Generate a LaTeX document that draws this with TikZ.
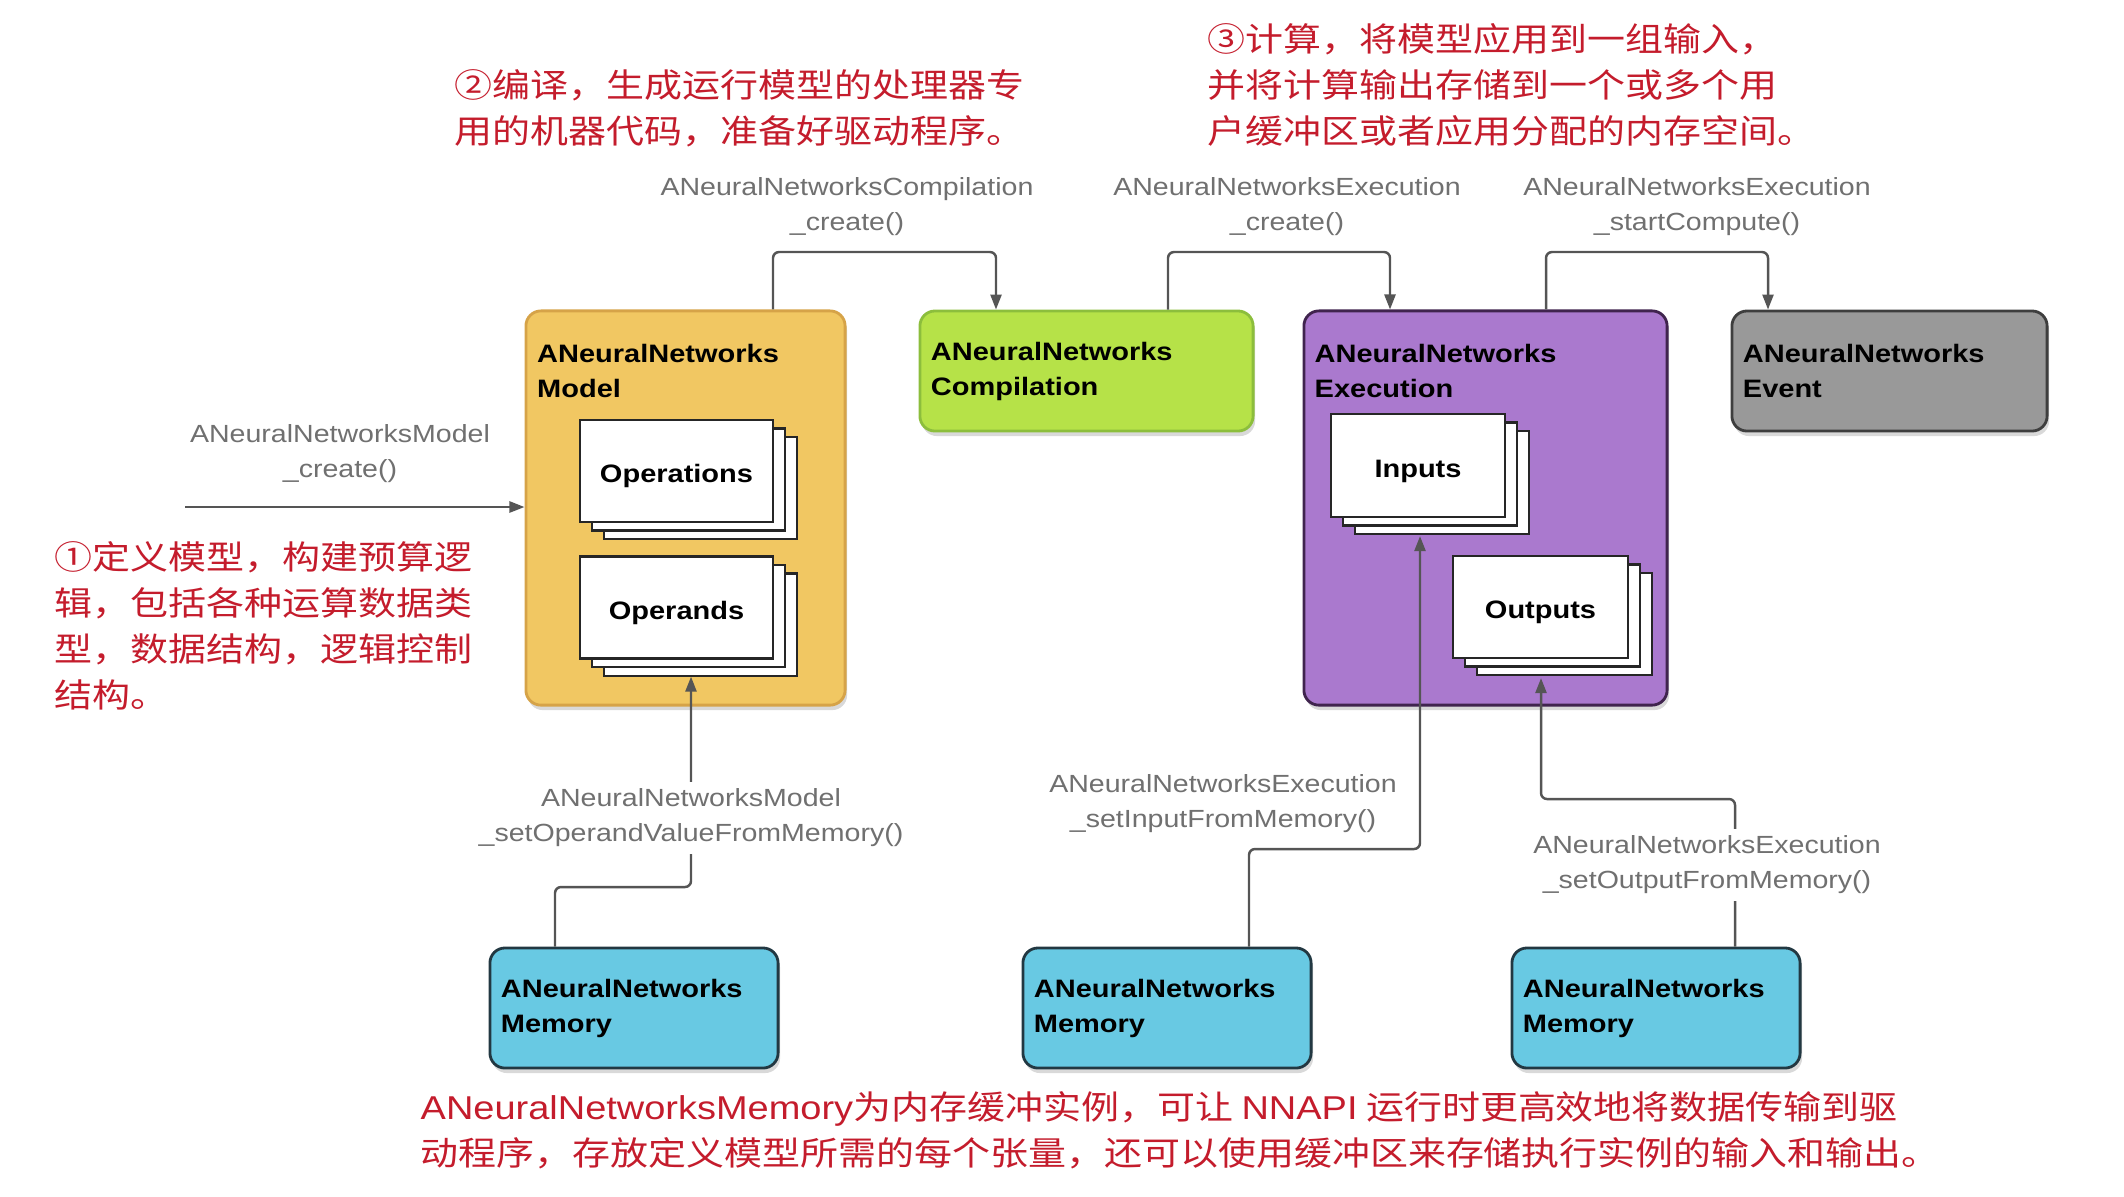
\documentclass[tikz,border=0pt]{standalone}
\usepackage{fontspec}
\setmainfont{Liberation Sans}
\newfontfamily\cjk[FakeStretch=1.15]{Noto Sans CJK SC}
\newfontfamily\lat[FakeStretch=1.15]{Liberation Sans}
\usetikzlibrary{positioning, arrows.meta, calc, shadows}
\definecolor{modelfill}{RGB}{241,199,98}
\definecolor{modeldraw}{RGB}{214,163,72}
\definecolor{compfill}{RGB}{182,226,72}
\definecolor{compdraw}{RGB}{140,190,60}
\definecolor{execfill}{RGB}{170,121,206}
\definecolor{execdraw}{RGB}{64,36,78}
\definecolor{eventfill}{RGB}{153,153,153}
\definecolor{eventdraw}{RGB}{62,62,62}
\definecolor{memfill}{RGB}{104,201,227}
\definecolor{memdraw}{RGB}{34,56,66}
\definecolor{wire}{RGB}{85,85,85}
\definecolor{callgray}{RGB}{112,112,112}
\definecolor{notered}{RGB}{196,28,44}
\tikzset{
  box/.style={
    draw, line width=0.8pt, rounded corners=0.15cm, align=left, inner xsep=0.11cm,
    font={\lat\bfseries\fontsize{7.17pt}{9.96pt}\selectfont},
    drop shadow={shadow xshift=0.02cm, shadow yshift=-0.05cm, opacity=0.3}
  },
  ttl/.style={anchor=north west, inner sep=0pt, align=left,
    font={\lat\bfseries\fontsize{7.17pt}{9.96pt}\selectfont}},
  card/.style={
    draw=black!85, fill=white, line width=0.6pt,
    minimum width=1.93cm, minimum height=1.02cm, text height=0.28cm, text depth=0.05cm,
    font={\lat\bfseries\fontsize{7.17pt}{9.96pt}\selectfont},
    general shadow={shadow xshift=0.24cm, shadow yshift=-0.17cm, draw=black!85, fill=white, line width=0.6pt},
    general shadow={shadow xshift=0.12cm, shadow yshift=-0.085cm, draw=black!85, fill=white, line width=0.6pt}
  },
  mem/.style={box, fill=memfill, draw=memdraw, minimum width=2.88cm, minimum height=1.2cm, text width=2.66cm},
  conn/.style={draw=wire, line width=0.7pt, rounded corners=0.06cm, -{Triangle[length=0.15cm, width=0.11cm]}},
  call/.style={align=center, fill=white, inner sep=2pt, text=callgray,
    font={\lat\fontsize{7.06pt}{9.96pt}\selectfont}},
  note/.style={anchor=north west, inner sep=0pt, align=left, text=notered,
    font={\cjk\fontsize{9.39pt}{13.09pt}\selectfont}},
}
\begin{document}
\begin{tikzpicture}[x=0.01cm, y=-0.01cm]
  \useasboundingbox (0,0) rectangle (2124,1196);

  % main objects
  \node[box, fill=modelfill, draw=modeldraw, minimum width=3.19cm, minimum height=3.94cm] (model) at (685.5,508) {};
  \node[ttl] (modelT) at ($(model.north west)+(12,34)$) {ANeuralNetworks\\Model};
  \node[card] (oper) at (676.5,471) {Operations};
  \node[card] (opnd) at (676.5,607.5) {Operands};

  \node[box, fill=compfill, draw=compdraw, minimum width=3.33cm, minimum height=1.2cm, text width=3.11cm] (comp) at (1086.5,371) {ANeuralNetworks\\Compilation};

  \node[box, fill=execfill, draw=execdraw, minimum width=3.63cm, minimum height=3.94cm] (exec) at (1485.5,508) {};
  \node[ttl] (execT) at ($(exec.north west)+(11.5,34)$) {ANeuralNetworks\\Execution};
  \node[card, minimum width=1.74cm, minimum height=1.03cm] (inp) at (1418,465.5) {Inputs};
  \node[card, minimum width=1.75cm] (outp) at (1540.5,607) {Outputs};

  \node[box, fill=eventfill, draw=eventdraw, minimum width=3.15cm, minimum height=1.2cm, text width=2.93cm] (event) at (1889.5,371) {ANeuralNetworks\\Event};

  \node[mem] (mem1) at (634,1008) {ANeuralNetworks\\Memory};
  \node[mem] (mem2) at (1167,1008) {ANeuralNetworks\\Memory};
  \node[mem] (mem3) at (1656,1008) {ANeuralNetworks\\Memory};

  % calls
  \coordinate (s0) at (185,507);
  \draw[conn] (s0) -- (s0 -| model.west);
  \coordinate (t1) at (773,252); \coordinate (t2) at (996,252);
  \draw[conn] (t1 |- model.north) -- (t1) -- (t2) -- (t2 |- comp.north);
  \coordinate (t3) at (1168,252); \coordinate (t4) at (1390,252);
  \draw[conn] (t3 |- comp.north) -- (t3) -- (t4) -- (t4 |- exec.north);
  \coordinate (t5) at (1546,252); \coordinate (t6) at (1768,252);
  \draw[conn] (t5 |- exec.north) -- (t5) -- (t6) -- (t6 |- event.north);

  \coordinate (u1) at (555,887); \coordinate (u2) at (691,887);
  \draw[conn] (u1 |- mem1.north) -- (u1) -- (u2) -- ($(opnd.south)+(14.5,17)$);
  \coordinate (u3) at (1249,849); \coordinate (u4) at (1420,849);
  \draw[conn] (u3 |- mem2.north) -- (u3) -- (u4) -- ($(inp.south)+(2,18)$);
  \coordinate (u5) at (1735,799); \coordinate (u6) at (1541,799);
  \draw[conn] (u5 |- mem3.north) -- (u5) -- (u6) -- ($(outp.south)+(0.5,19)$);

  \node[call] (cModel) at (340,454) {ANeuralNetworksModel\\\_create()};
  \node[call] (cComp) at (847,207) {ANeuralNetworksCompilation\\\_create()};
  \node[call] (cExec) at (1287,207) {ANeuralNetworksExecution\\\_create()};
  \node[call] (cStart) at (1697,207) {ANeuralNetworksExecution\\\_startCompute()};
  \node[call] (cOpnd) at (691,818) {ANeuralNetworksModel\\\_setOperandValueFromMemory()};
  \node[call] (cIn) at (1223,804) {ANeuralNetworksExecution\\\_setInputFromMemory()};
  \node[call] (cOut) at (1707,865) {ANeuralNetworksExecution\\\_setOutputFromMemory()};

  % notes
  \node[note] (n1) at (54,541) {①定义模型，构建预算逻\\辑，包括各种运算数据类\\型，数据结构，逻辑控制\\结构。};
  \node[note] (n2) at (454,69) {②编译，生成运行模型的处理器专\\用的机器代码，准备好驱动程序。};
  \node[note] (n3) at (1207,23) {③计算，将模型应用到一组输入，\\并将计算输出存储到一个或多个用\\户缓冲区或者应用分配的内存空间。};
  \node[note] (n4) at (420,1091) {{\lat ANeuralNetworksMemory}为内存缓冲实例，可让 {\lat NNAPI} 运行时更高效地将数据传输到驱\\动程序，存放定义模型所需的每个张量，还可以使用缓冲区来存储执行实例的输入和输出。};
\end{tikzpicture}
\end{document}
